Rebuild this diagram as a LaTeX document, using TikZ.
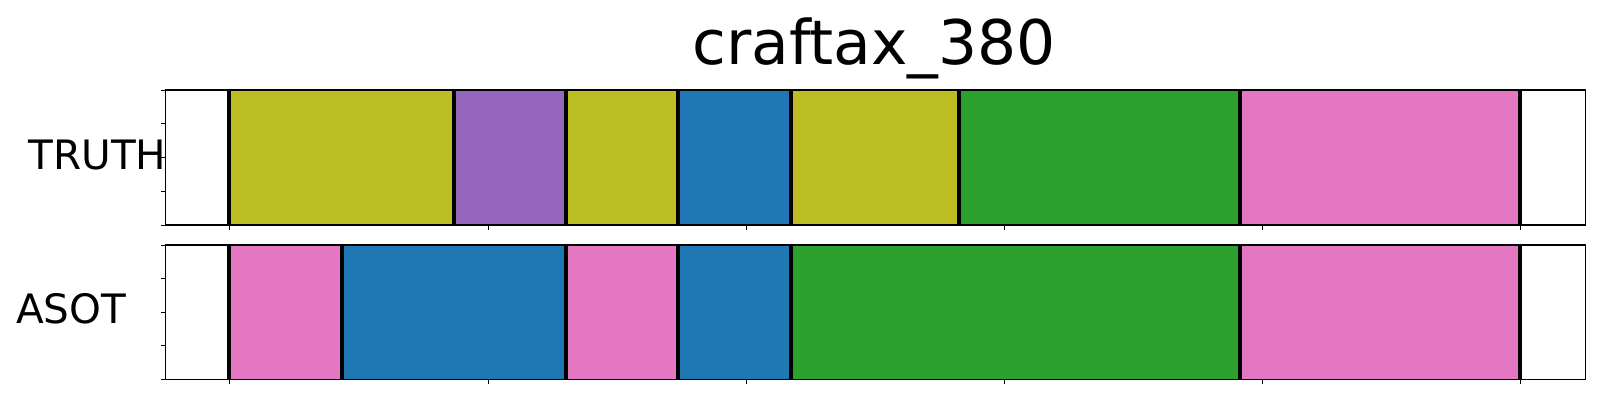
\documentclass[tikz,border=0pt]{standalone}
\usepackage{fontspec}
\setmainfont{DejaVu Sans}
\definecolor{tabolive}{HTML}{BCBD22}
\definecolor{tabpurple}{HTML}{9467BD}
\definecolor{tabblue}{HTML}{1F77B4}
\definecolor{tabgreen}{HTML}{2CA02C}
\definecolor{tabpink}{HTML}{E377C2}
\begin{document}
\begin{tikzpicture}[x=1pt,y=-1pt,
  bound/.style={line width=4pt},
  frame/.style={line width=1.3pt},
  tick/.style={line width=1pt}]
\useasboundingbox (0,0) rectangle (1600,400);
% TRUTH row
\foreach \a/\b/\c in {229/453.7/tabolive,453.7/565.7/tabpurple,565.7/677.7/tabolive,
  677.7/791/tabblue,791/959/tabolive,959/1240/tabgreen,1240/1520/tabpink}
  \fill[\c] (\a,90) rectangle (\b,225);
\foreach \a in {229,453.7,565.7,677.7,791,959,1240,1520}
  \draw[bound] (\a,90) -- (\a,225);
% ASOT row
\foreach \a/\b/\c in {229/341.7/tabpink,341.7/565.7/tabblue,565.7/677.7/tabpink,
  677.7/791/tabblue,791/1240/tabgreen,1240/1520/tabpink}
  \fill[\c] (\a,245) rectangle (\b,379.5);
\foreach \a in {229,341.7,565.7,677.7,791,1240,1520}
  \draw[bound] (\a,245) -- (\a,379.5);
% axes
\draw[frame] (165.7,90) rectangle (1585.7,225);
\draw[frame] (165.7,245) rectangle (1585.7,379.5);
\foreach \y in {90,123.75,157.5,191.25,225,245,278.6,312.25,345.9,379.5}
  \draw[tick] (165.7,\y) -- (160.7,\y);
\foreach \x in {229,488.3,746.3,1004.3,1262.3,1520}{
  \draw[tick] (\x,225) -- (\x,229.5);
  \draw[tick] (\x,379.5) -- (\x,384);
}
\node[anchor=base,inner sep=0] (title) at (874.2,64) {\fontsize{61.5}{70}\selectfont craftax\_380};
\node[anchor=base,inner sep=0] (truth) at (97.4,169.3) {\fontsize{40.5}{48}\selectfont TRUTH};
\node[anchor=base,inner sep=0] (asot) at (71.2,323.3) {\fontsize{40.5}{48}\selectfont ASOT};
\end{tikzpicture}
\end{document}
